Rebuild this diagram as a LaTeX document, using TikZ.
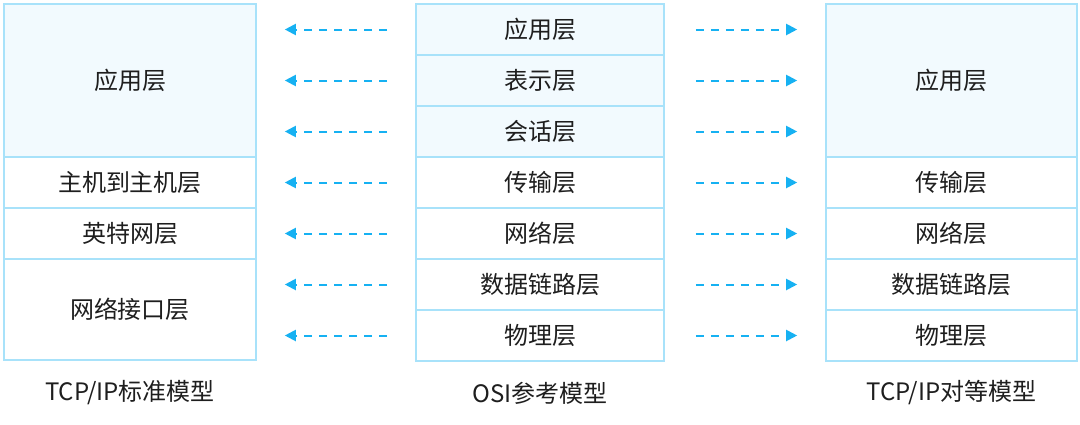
\documentclass[tikz,border=0pt]{standalone}
\usepackage{fontspec}
\setmainfont{Noto Sans CJK SC}
\usetikzlibrary{arrows.meta}
\definecolor{layerline}{HTML}{A8E2FA}
\definecolor{layerfill}{HTML}{F2FAFE}
\definecolor{arrowblue}{HTML}{16B1F2}
\definecolor{textgray}{HTML}{1E1E1E}
\begin{document}
\begin{tikzpicture}[x=1pt,y=-1pt]
    \useasboundingbox (0,0) rectangle (1080,424);
    \begin{scope}
        \tikzset{layer/.style={draw=layerline, line width=1.6pt, inner sep=0pt, text=textgray, font=\fontsize{24}{29}\selectfont, minimum height=51pt},
                 tall/.style={fill=layerfill},
                 tcp layer/.style={layer, minimum width=252pt},
                 osi layer/.style={layer, minimum width=248pt},
                 peer layer/.style={layer, minimum width=251pt},
                 toleft/.style={draw=arrowblue, line width=2pt, dash pattern=on 8pt off 7pt, -{Triangle[length=11pt,width=11pt]}, shorten <=28pt, shorten >=28pt},
                 toright/.style={draw=arrowblue, line width=2pt, dash pattern=on 8pt off 7pt, -{Triangle[length=11pt,width=11pt]}, shorten <=31pt, shorten >=28pt},
                 model/.style={text=textgray, font=\fontsize{24}{29}\selectfont}}

        % TCP/IP standard model
        \node [tcp layer, tall, minimum height=153pt] (t1) at (130,80.5) {应用层};
        \node [tcp layer] (t2) at (130,182.5) {主机到主机层};
        \node [tcp layer] (t3) at (130,233.5) {英特网层};
        \node [tcp layer, minimum height=101pt] (t4) at (130,309.5) {网络接口层};

        % OSI reference model
        \node [osi layer, tall] (o1) at (540,29.5) {应用层};
        \node [osi layer, tall] (o2) at (540,80.5) {表示层};
        \node [osi layer, tall] (o3) at (540,131.5) {会话层};
        \node [osi layer] (o4) at (540,182.5) {传输层};
        \node [osi layer] (o5) at (540,233.5) {网络层};
        \node [osi layer] (o6) at (540,284.5) {数据链路层};
        \node [osi layer] (o7) at (540,335.5) {物理层};

        % TCP/IP peer model
        \node [peer layer, tall, minimum height=153pt] (p1) at (951.5,80.5) {应用层};
        \node [peer layer] (p2) at (951.5,182.5) {传输层};
        \node [peer layer] (p3) at (951.5,233.5) {网络层};
        \node [peer layer] (p4) at (951.5,284.5) {数据链路层};
        \node [peer layer] (p5) at (951.5,335.5) {物理层};

        % Arrows to the standard model
        \draw [toleft] (o1.west) -- (o1.west -| t1.east);
        \draw [toleft] (o2.west) -- (o2.west -| t1.east);
        \draw [toleft] (o3.west) -- (o3.west -| t1.east);
        \draw [toleft] (o4.west) -- (t2.east);
        \draw [toleft] (o5.west) -- (t3.east);
        \draw [toleft] (o6.west) -- (o6.west -| t4.east);
        \draw [toleft] (o7.west) -- (o7.west -| t4.east);

        % Arrows to the peer model
        \draw [toright] (o1.east) -- (o1.east -| p1.west);
        \draw [toright] (o2.east) -- (o2.east -| p1.west);
        \draw [toright] (o3.east) -- (o3.east -| p1.west);
        \draw [toright] (o4.east) -- (p2.west);
        \draw [toright] (o5.east) -- (p3.west);
        \draw [toright] (o6.east) -- (p4.west);
        \draw [toright] (o7.east) -- (p5.west);

        % Model names
        \node [model] (tname) at (130,393) {TCP/IP标准模型};
        \node [model] (oname) at (540,393) {OSI参考模型};
        \node [model] (pname) at (951.5,393) {TCP/IP对等模型};
    \end{scope}
\end{tikzpicture}
\end{document}
